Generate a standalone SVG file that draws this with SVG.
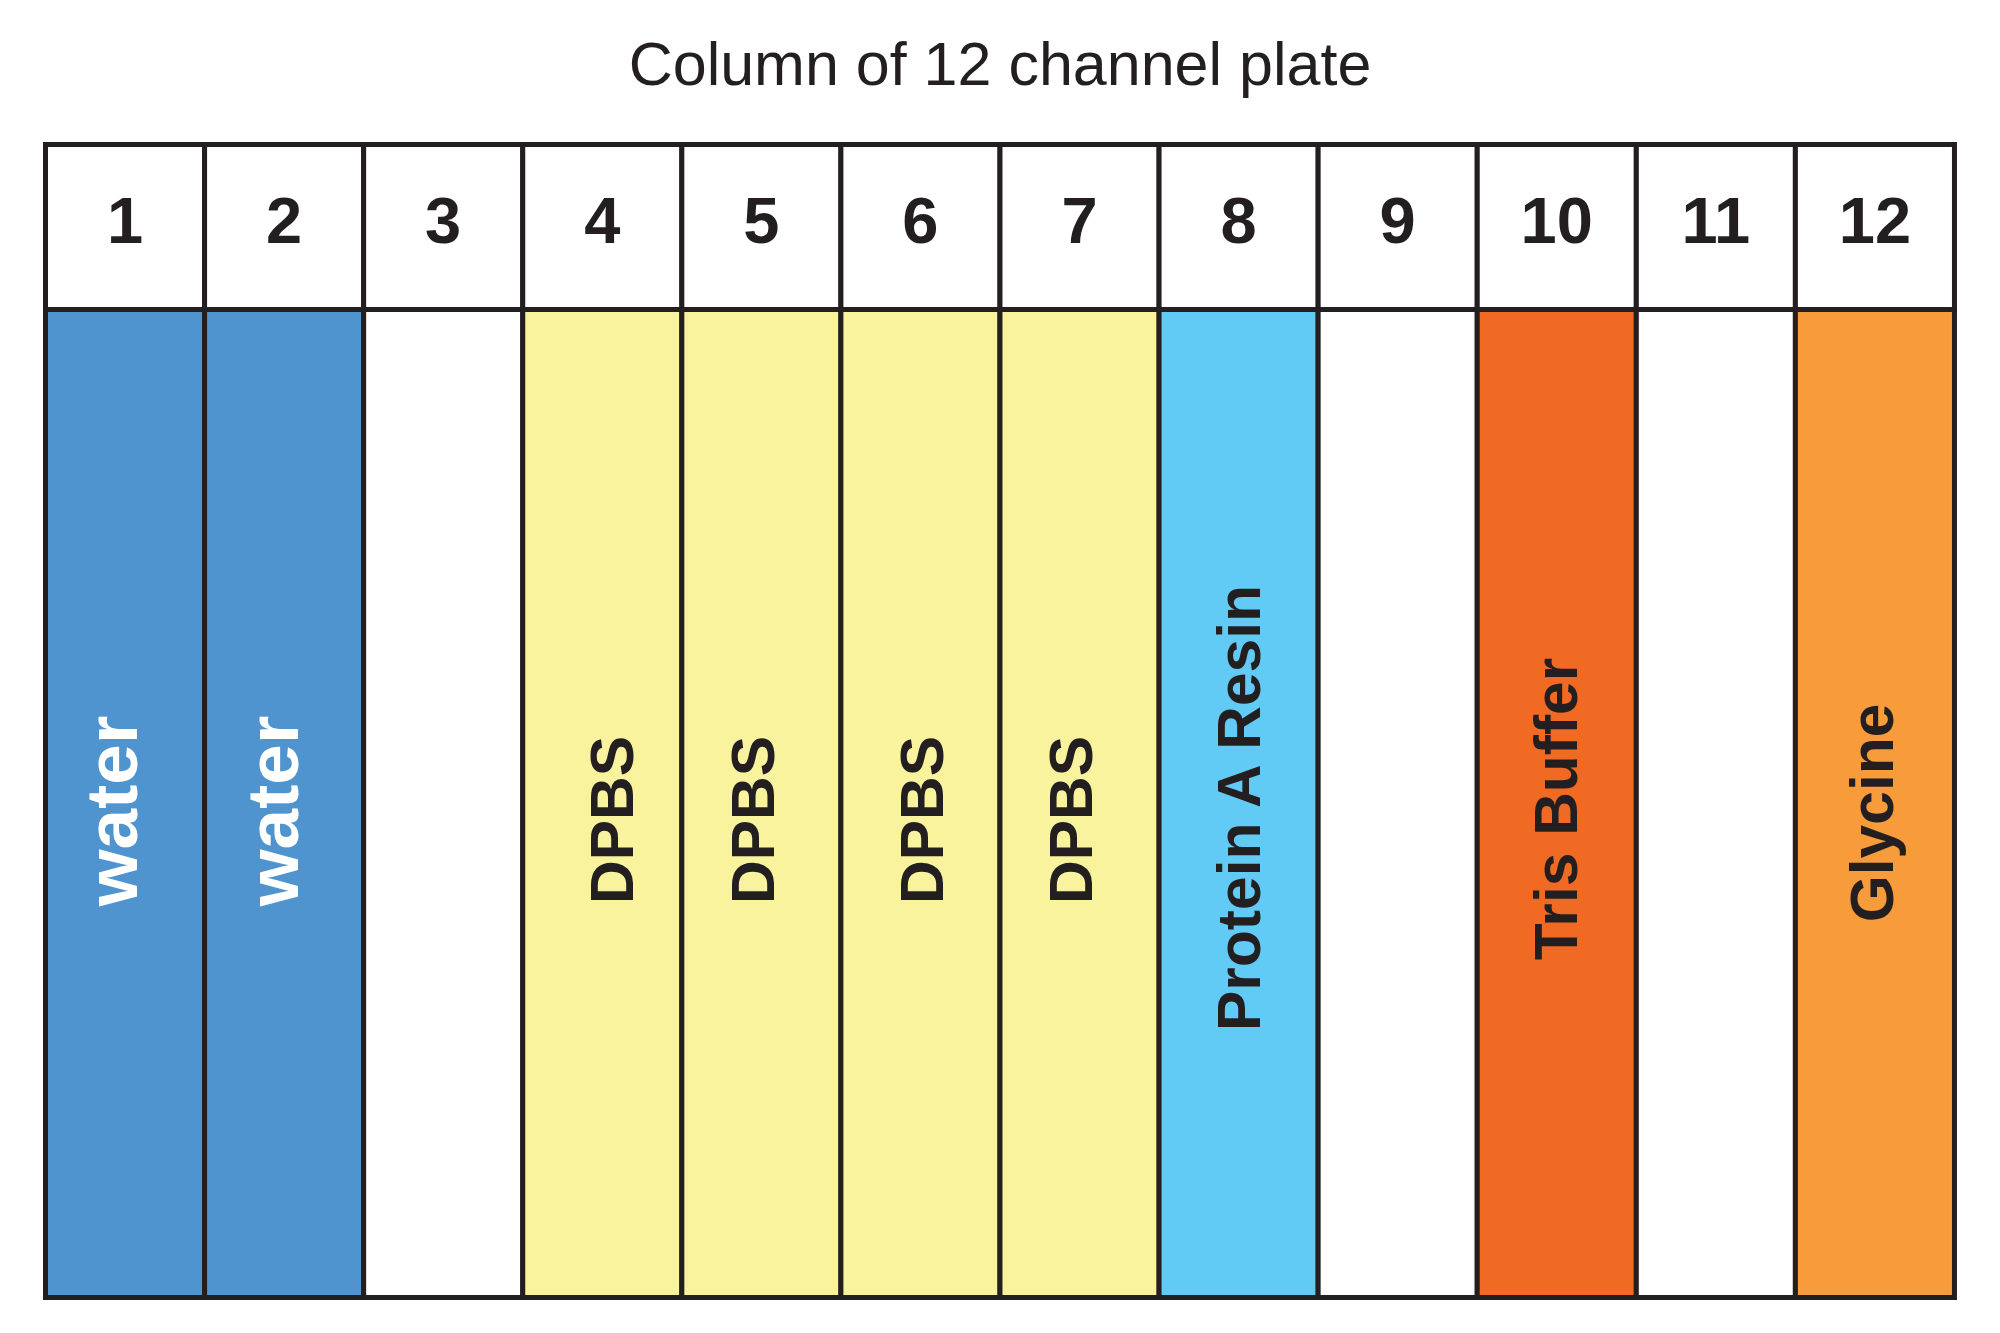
<svg xmlns="http://www.w3.org/2000/svg" width="2000" height="1333" viewBox="0 0 2000 1333">
<style>
.cell{stroke:#231F20;stroke-width:5}
.hd{fill:#FFFFFF}
.num{font-family:"Liberation Sans",Arial,Helvetica,sans-serif;font-weight:bold;font-size:65px;fill:#231F20;text-anchor:middle}
.lbl{font-family:"Liberation Sans",Arial,Helvetica,sans-serif;font-weight:bold;font-size:60.5px;fill:#231F20;text-anchor:middle}
.wat{font-family:"Liberation Sans",Arial,Helvetica,sans-serif;font-weight:bold;font-size:73px;fill:#FFFFFF;text-anchor:middle}
.title{font-family:"Liberation Sans",Arial,Helvetica,sans-serif;font-size:61px;fill:#231F20;text-anchor:middle}
.water{fill:#5094CF}
.blank{fill:#FFFFFF}
.dpbs{fill:#F8F39C}
.resin{fill:#62CBF5}
.tris{fill:#F06A23}
.gly{fill:#F79B3B}
</style>
<rect width="2000" height="1333" fill="#FFFFFF"/>
<text class="title" x="1000" y="85">Column of 12 channel plate</text>

<g id="col1">
<rect class="cell hd" x="45.5" y="144.5" width="159.08" height="165"/>
<rect class="cell water" x="45.5" y="309.5" width="159.08" height="988"/>
<text class="num" x="125.04" y="243">1</text>
<text class="wat" transform="translate(137,811) rotate(-90)">water</text>
</g>
<g id="col2">
<rect class="cell hd" x="204.58" y="144.5" width="159.08" height="165"/>
<rect class="cell water" x="204.58" y="309.5" width="159.08" height="988"/>
<text class="num" x="284.12" y="243">2</text>
<text class="wat" transform="translate(298,811) rotate(-90)">water</text>
</g>
<g id="col3">
<rect class="cell hd" x="363.66" y="144.5" width="159.08" height="165"/>
<rect class="cell blank" x="363.66" y="309.5" width="159.08" height="988"/>
<text class="num" x="443.2" y="243">3</text>
</g>
<g id="col4">
<rect class="cell hd" x="522.74" y="144.5" width="159.08" height="165"/>
<rect class="cell dpbs" x="522.74" y="309.5" width="159.08" height="988"/>
<text class="num" x="602.28" y="243">4</text>
<text class="lbl" transform="translate(633,820) rotate(-90)">DPBS</text>
</g>
<g id="col5">
<rect class="cell hd" x="681.82" y="144.5" width="159.08" height="165"/>
<rect class="cell dpbs" x="681.82" y="309.5" width="159.08" height="988"/>
<text class="num" x="761.36" y="243">5</text>
<text class="lbl" transform="translate(774,820) rotate(-90)">DPBS</text>
</g>
<g id="col6">
<rect class="cell hd" x="840.9" y="144.5" width="159.08" height="165"/>
<rect class="cell dpbs" x="840.9" y="309.5" width="159.08" height="988"/>
<text class="num" x="920.44" y="243">6</text>
<text class="lbl" transform="translate(943,820) rotate(-90)">DPBS</text>
</g>
<g id="col7">
<rect class="cell hd" x="999.98" y="144.5" width="159.08" height="165"/>
<rect class="cell dpbs" x="999.98" y="309.5" width="159.08" height="988"/>
<text class="num" x="1079.52" y="243">7</text>
<text class="lbl" transform="translate(1092,820) rotate(-90)">DPBS</text>
</g>
<g id="col8">
<rect class="cell hd" x="1159.06" y="144.5" width="159.08" height="165"/>
<rect class="cell resin" x="1159.06" y="309.5" width="159.08" height="988"/>
<text class="num" x="1238.6" y="243">8</text>
<text class="lbl" transform="translate(1260,808) rotate(-90)">Protein A Resin</text>
</g>
<g id="col9">
<rect class="cell hd" x="1318.14" y="144.5" width="159.08" height="165"/>
<rect class="cell blank" x="1318.14" y="309.5" width="159.08" height="988"/>
<text class="num" x="1397.68" y="243">9</text>
</g>
<g id="col10">
<rect class="cell hd" x="1477.22" y="144.5" width="159.08" height="165"/>
<rect class="cell tris" x="1477.22" y="309.5" width="159.08" height="988"/>
<text class="num" x="1556.76" y="243">10</text>
<text class="lbl" transform="translate(1577,809) rotate(-90)">Tris Buffer</text>
</g>
<g id="col11">
<rect class="cell hd" x="1636.3" y="144.5" width="159.08" height="165"/>
<rect class="cell blank" x="1636.3" y="309.5" width="159.08" height="988"/>
<text class="num" x="1715.84" y="243">11</text>
</g>
<g id="col12">
<rect class="cell hd" x="1795.38" y="144.5" width="159.08" height="165"/>
<rect class="cell gly" x="1795.38" y="309.5" width="159.08" height="988"/>
<text class="num" x="1874.92" y="243">12</text>
<text class="lbl" transform="translate(1893,813) rotate(-90)">Glycine</text>
</g>
</svg>
